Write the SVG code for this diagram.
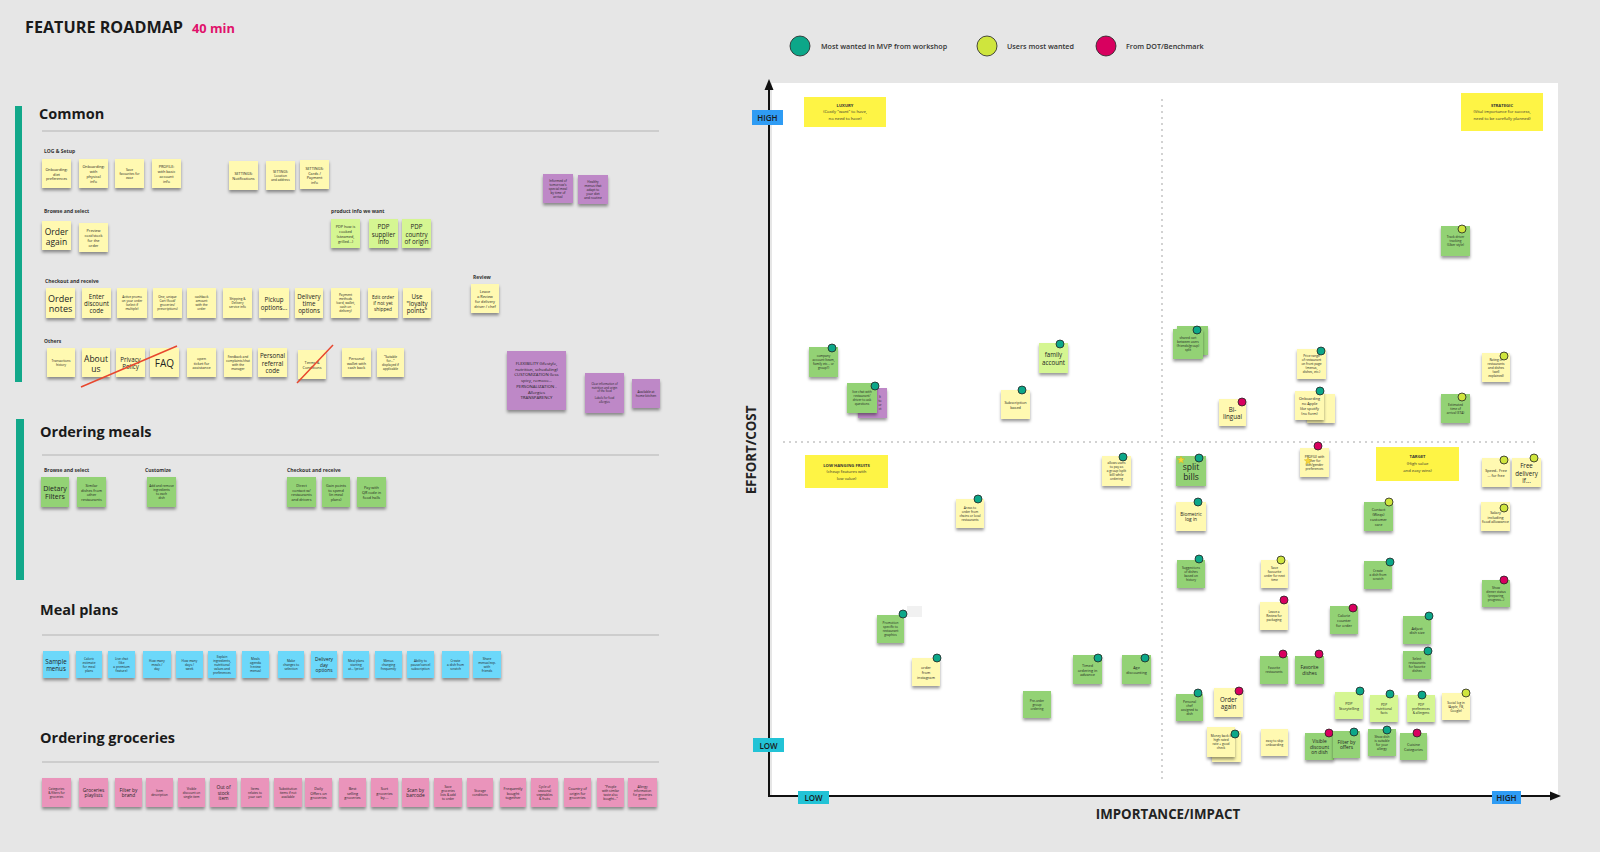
<svg xmlns="http://www.w3.org/2000/svg" xmlns:xlink="http://www.w3.org/1999/xlink" width="1600" height="852" viewBox="0 0 1600 852">
<defs>
<filter id="sh" x="-20%" y="-20%" width="140%" height="150%"><feDropShadow dx="0" dy="2.4" stdDeviation="1.5" flood-color="#000" flood-opacity="0.4"/></filter>
<polygon id="star" points="0,-4 1,-1.38 3.8,-1.24 1.62,0.53 2.35,3.24 0,1.7 -2.35,3.24 -1.62,0.53 -3.8,-1.24 -1,-1.38" fill="#f7d43b" stroke="#c9a400" stroke-width="0.3"/>
<style>
.y,.g,.l,.b,.p,.v{filter:url(#sh)}
.y{fill:#fff9b1}.g{fill:#93d275}.l{fill:#d5f692}.b{fill:#6cd8fa}.p{fill:#ea94bb}.v{fill:#be88c7}
.t{font-family:"Open Sans","Liberation Sans",Arial,sans-serif;fill:#222;text-anchor:middle;dominant-baseline:central}
.xs{font-size:3.2px}.s{font-size:3.8px}.m{font-size:4.8px}.M{font-size:6.2px}.L{font-size:8.5px}
.lb{font-family:"Open Sans","Liberation Sans",Arial,sans-serif;font-size:5px;font-weight:700;fill:#333}
.h{font-family:"Open Sans","Liberation Sans",Arial,sans-serif;font-size:14.5px;font-weight:700;fill:#1a1a1a}
.sec{stroke:#b4b4b4;stroke-width:1}
.bar{fill:#12a88a}
.dt,.dy,.dm{stroke:#222;stroke-width:0.8}
.dt{fill:#0ca789}.dy{fill:#cfe53d}.dm{fill:#d8005f}
.qb{fill:#fef445}
.q{font-family:"Open Sans","Liberation Sans",Arial,sans-serif;font-size:4.2px;fill:#333;text-anchor:middle;dominant-baseline:central}
.ax{font-family:"Open Sans","Liberation Sans",Arial,sans-serif;font-size:13.3px;font-weight:700;fill:#222;text-anchor:middle}
.tg{font-family:"Open Sans","Liberation Sans",Arial,sans-serif;font-size:8px;font-weight:600;fill:#1a1a1a;text-anchor:middle;dominant-baseline:central}
.lg{font-family:"Open Sans","Liberation Sans",Arial,sans-serif;font-size:7.2px;font-weight:600;fill:#333;dominant-baseline:central}
.strike{stroke:#e8472e;stroke-width:1.5}
</style>
</defs>
<rect width="1600" height="852" fill="#e6e6e6"/>

<g id="title">
<text x="25" y="33" font-family="Open Sans, Liberation Sans, sans-serif" font-size="16.2" font-weight="700" fill="#1a1a1a">FEATURE ROADMAP</text>
<text x="192" y="33" font-family="Open Sans, Liberation Sans, sans-serif" font-size="12.8" font-weight="700" fill="#e0116b">40 min</text>
</g>

<!-- ============ COMMON ============ -->
<g id="sec-common">
<rect class="bar" x="15" y="106" width="7" height="276"/>
<text class="h" x="39" y="119">Common</text>
<line class="sec" x1="42" y1="131" x2="659" y2="131"/>
<text class="lb" x="44" y="153">LOG &amp; Setup</text>
<text class="lb" x="44" y="213">Browse and select</text>
<text class="lb" x="331" y="213">product info we want</text>
<text class="lb" x="45" y="283">Checkout and receive</text>
<text class="lb" x="473" y="279">Review</text>
<text class="lb" x="44" y="343">Others</text>
</g>

<g id="c-log1"><rect class="y" x="42" y="159" width="29" height="29"/><text class="t s" x="56.5" y="168.8"><tspan x="56.5">Onboarding:</tspan><tspan x="56.5" dy="4.7">diet</tspan><tspan x="56.5" dy="4.7">preferences</tspan></text></g>
<g id="c-log2"><rect class="y" x="79" y="159" width="29" height="29"/><text class="t s" x="93.5" y="166.45"><tspan x="93.5">Onboarding:</tspan><tspan x="93.5" dy="4.7">with</tspan><tspan x="93.5" dy="4.7">physical</tspan><tspan x="93.5" dy="4.7">info</tspan></text></g>
<g id="c-log3"><rect class="y" x="115" y="159" width="29" height="29"/><text class="t xs" x="129.5" y="169.5"><tspan x="129.5">Save</tspan><tspan x="129.5" dy="4">favourites for</tspan><tspan x="129.5" dy="4">ease</tspan></text></g>
<g id="c-log4"><rect class="y" x="152" y="159" width="29" height="29"/><text class="t s" x="166.5" y="166.45"><tspan x="166.5">PROFILE:</tspan><tspan x="166.5" dy="4.7">with basic</tspan><tspan x="166.5" dy="4.7">account</tspan><tspan x="166.5" dy="4.7">info</tspan></text></g>
<g id="c-log5"><rect class="y" x="229" y="161" width="29" height="29"/><text class="t s" x="243.5" y="173.15"><tspan x="243.5">SETTINGS:</tspan><tspan x="243.5" dy="4.7">Notifications</tspan></text></g>
<g id="c-log6"><rect class="y" x="266" y="161" width="29" height="29"/><text class="t xs" x="280.5" y="171.5"><tspan x="280.5">SETTINGS:</tspan><tspan x="280.5" dy="4">Location</tspan><tspan x="280.5" dy="4">and address</tspan></text></g>
<g id="c-log7"><rect class="y" x="300" y="160" width="29" height="29"/><text class="t s" x="314.5" y="167.95"><tspan x="314.5">SETTINGS:</tspan><tspan x="314.5" dy="4.7">Cards /</tspan><tspan x="314.5" dy="4.7">Payment</tspan><tspan x="314.5" dy="4.7">info</tspan></text></g>
<g id="c-pur1"><rect class="v" x="543" y="174" width="30" height="29"/><text class="t xs" x="558" y="180.5"><tspan x="558">Informed of</tspan><tspan x="558" dy="4">tomorrow's</tspan><tspan x="558" dy="4">special meal</tspan><tspan x="558" dy="4">by time of</tspan><tspan x="558" dy="4">arrival</tspan></text></g>
<g id="c-pur2"><rect class="v" x="578" y="175" width="30" height="29"/><text class="t xs" x="593" y="181.5"><tspan x="593">Healthy</tspan><tspan x="593" dy="4">menus that</tspan><tspan x="593" dy="4">adapt to</tspan><tspan x="593" dy="4">your diet</tspan><tspan x="593" dy="4">and routine</tspan></text></g>

<g id="c-br1"><rect class="y" x="42" y="221" width="29" height="29"/><text class="t L" x="56.5" y="230.5"><tspan x="56.5">Order</tspan><tspan x="56.5" dy="10">again</tspan></text></g>
<g id="c-br2"><rect class="y" x="79" y="223" width="29" height="29"/><text class="t s" x="93.5" y="230.45"><tspan x="93.5">Preview</tspan><tspan x="93.5" dy="4.7">cost/stock</tspan><tspan x="93.5" dy="4.7">for the</tspan><tspan x="93.5" dy="4.7">order</tspan></text></g>
<g id="c-pdp1"><rect class="l" x="331" y="219" width="29" height="29"/><text class="t s" x="345.5" y="226.45"><tspan x="345.5">PDP how is</tspan><tspan x="345.5" dy="4.7">cooked</tspan><tspan x="345.5" dy="4.7">(steamed,</tspan><tspan x="345.5" dy="4.7">grilled...)</tspan></text></g>
<g id="c-pdp2"><rect class="l" x="369" y="219" width="29" height="29"/><text class="t M" x="383.5" y="226.1"><tspan x="383.5">PDP</tspan><tspan x="383.5" dy="7.4">supplier</tspan><tspan x="383.5" dy="7.4">info</tspan></text></g>
<g id="c-pdp3"><rect class="l" x="402" y="219" width="29" height="29"/><text class="t M" x="416.5" y="226.1"><tspan x="416.5">PDP</tspan><tspan x="416.5" dy="7.4">country</tspan><tspan x="416.5" dy="7.4">of origin</tspan></text></g>

<g id="c-co1"><rect class="y" x="46" y="288" width="29" height="30"/><text class="t" font-size="9" x="60.5" y="297.8"><tspan x="60.5">Order</tspan><tspan x="60.5" dy="10.5">notes</tspan></text></g>
<g id="c-co2"><rect class="y" x="82" y="288" width="29" height="30"/><text class="t M" x="96.5" y="295.6"><tspan x="96.5">Enter</tspan><tspan x="96.5" dy="7.4">discount</tspan><tspan x="96.5" dy="7.4">code</tspan></text></g>
<g id="c-co3"><rect class="y" x="117" y="288" width="30" height="30"/><text class="t xs" x="132" y="297"><tspan x="132">Active promo</tspan><tspan x="132" dy="4">on your order</tspan><tspan x="132" dy="4">(select if</tspan><tspan x="132" dy="4">multiple)</tspan></text></g>
<g id="c-co4"><rect class="y" x="153" y="288" width="29" height="30"/><text class="t xs" x="167.5" y="297"><tspan x="167.5">One, unique</tspan><tspan x="167.5" dy="4">Cart (food/</tspan><tspan x="167.5" dy="4">groceries/</tspan><tspan x="167.5" dy="4">prescriptions)</tspan></text></g>
<g id="c-co5"><rect class="y" x="187" y="288" width="29" height="30"/><text class="t xs" x="201.5" y="297"><tspan x="201.5">cashback</tspan><tspan x="201.5" dy="4">amount</tspan><tspan x="201.5" dy="4">with the</tspan><tspan x="201.5" dy="4">order</tspan></text></g>
<g id="c-co6"><rect class="y" x="223" y="288" width="29" height="30"/><text class="t xs" x="237.5" y="299"><tspan x="237.5">Shipping &amp;</tspan><tspan x="237.5" dy="4">Delivery</tspan><tspan x="237.5" dy="4">service info</tspan></text></g>
<g id="c-co7"><rect class="y" x="259" y="288" width="30" height="30"/><text class="t M" x="274" y="299.3"><tspan x="274">Pickup</tspan><tspan x="274" dy="7.4">options...</tspan></text></g>
<g id="c-co8"><rect class="y" x="295" y="288" width="28" height="30"/><text class="t M" x="309" y="295.6"><tspan x="309">Delivery</tspan><tspan x="309" dy="7.4">time</tspan><tspan x="309" dy="7.4">options</tspan></text></g>
<g id="c-co9"><rect class="y" x="331" y="288" width="29" height="30"/><text class="t xs" x="345.5" y="295"><tspan x="345.5">Payment</tspan><tspan x="345.5" dy="4">methods</tspan><tspan x="345.5" dy="4">(card, wallet,</tspan><tspan x="345.5" dy="4">cash on</tspan><tspan x="345.5" dy="4">delivery)</tspan></text></g>
<g id="c-co10"><rect class="y" x="368" y="288" width="30" height="30"/><text class="t m" x="383" y="297.2"><tspan x="383">Edit order</tspan><tspan x="383" dy="5.8">if not yet</tspan><tspan x="383" dy="5.8">shipped</tspan></text></g>
<g id="c-co11"><rect class="y" x="403" y="288" width="28" height="30"/><text class="t M" x="417" y="295.6"><tspan x="417">Use</tspan><tspan x="417" dy="7.4">"loyalty</tspan><tspan x="417" dy="7.4">points"</tspan></text></g>
<g id="c-rev"><rect class="y" x="471" y="284" width="28" height="29"/><text class="t s" x="485" y="291.45"><tspan x="485">Leave</tspan><tspan x="485" dy="4.7">a Review</tspan><tspan x="485" dy="4.7">for delivery</tspan><tspan x="485" dy="4.7">driver / chef</tspan></text></g>

<g id="c-ot1"><rect class="y" x="47" y="348" width="28" height="29"/><text class="t xs" x="61" y="360.5"><tspan x="61">Transactions</tspan><tspan x="61" dy="4">history</tspan></text></g>
<g id="c-ot2"><rect class="y" x="82" y="348" width="28" height="29"/><text class="t L" x="96" y="357.5"><tspan x="96">About</tspan><tspan x="96" dy="10">us</tspan></text></g>
<g id="c-ot3"><rect class="y" x="116" y="348" width="29" height="29"/><text class="t M" x="130.5" y="358.8"><tspan x="130.5">Privacy</tspan><tspan x="130.5" dy="7.4">Policy</tspan></text></g>
<g id="c-ot4"><rect class="y" x="150" y="348" width="29" height="29"/><text class="t" font-size="10" x="164.5" y="362.5">FAQ</text></g>
<g id="c-ot5"><rect class="y" x="187" y="348" width="29" height="29"/><text class="t s" x="201.5" y="357.8"><tspan x="201.5">open</tspan><tspan x="201.5" dy="4.7">ticket for</tspan><tspan x="201.5" dy="4.7">assistance</tspan></text></g>
<g id="c-ot6"><rect class="y" x="224" y="348" width="28" height="29"/><text class="t xs" x="238" y="356.5"><tspan x="238">Feedback and</tspan><tspan x="238" dy="4">complaints/chat</tspan><tspan x="238" dy="4">with the</tspan><tspan x="238" dy="4">manager</tspan></text></g>
<g id="c-ot7"><rect class="y" x="258" y="348" width="29" height="29"/><text class="t M" x="272.5" y="355.1"><tspan x="272.5">Personal</tspan><tspan x="272.5" dy="7.4">referral</tspan><tspan x="272.5" dy="7.4">code</tspan></text></g>
<g id="c-ot8"><rect class="y" x="298" y="350" width="28" height="29"/><text class="t s" x="312" y="362.15"><tspan x="312">Terms &amp;</tspan><tspan x="312" dy="4.7">Conditions</tspan></text></g>
<g id="c-ot9"><rect class="y" x="342" y="348" width="29" height="29"/><text class="t s" x="356.5" y="357.8"><tspan x="356.5">Personal</tspan><tspan x="356.5" dy="4.7">wallet with</tspan><tspan x="356.5" dy="4.7">cash back</tspan></text></g>
<g id="c-ot10"><rect class="y" x="377" y="348" width="27" height="29"/><text class="t xs" x="390.5" y="356.5"><tspan x="390.5">"Suitable</tspan><tspan x="390.5" dy="4">for..."</tspan><tspan x="390.5" dy="4">displayed if</tspan><tspan x="390.5" dy="4">applicable</tspan></text></g>
<g id="c-strikes">
<line class="strike" x1="81" y1="387" x2="177" y2="346"/>
<line class="strike" x1="297" y1="383" x2="333" y2="345"/>
</g>

<g id="c-pur3"><rect class="v" x="507" y="351" width="59" height="59"/><text class="t" font-size="4.3" x="536.5" y="363"><tspan x="536.5">FLEXIBILITY (lifestyle,</tspan><tspan x="536.5" dy="5.7">nutrition, scheduling)</tspan><tspan x="536.5" dy="5.7">CUSTOMIZATION (less</tspan><tspan x="536.5" dy="5.7">spicy, remove...</tspan><tspan x="536.5" dy="5.7">PERSONALIZATION -</tspan><tspan x="536.5" dy="5.7">Allergies</tspan><tspan x="536.5" dy="5.7">TRANSPARENCY</tspan></text></g>
<g id="c-pur4"><rect class="v" x="585" y="373" width="39" height="40"/><text class="t" font-size="2.8" x="604.5" y="384"><tspan x="604.5">Clear information of</tspan><tspan x="604.5" dy="3.6">nutrition and origin</tspan><tspan x="604.5" dy="3.6">of the food</tspan><tspan x="604.5" dy="7">Labels for food</tspan><tspan x="604.5" dy="3.6">allergies</tspan></text></g>
<g id="c-pur5"><rect class="v" x="632" y="379" width="28" height="29"/><text class="t xs" x="646" y="391.5"><tspan x="646">Available at</tspan><tspan x="646" dy="4">home kitchen</tspan></text></g>

<!-- ============ ORDERING MEALS ============ -->
<g id="sec-meals">
<rect class="bar" x="16" y="419" width="8" height="161"/>
<text class="h" x="40" y="437">Ordering meals</text>
<line class="sec" x1="42" y1="455" x2="659" y2="455"/>
<text class="lb" x="44" y="472">Browse and select</text>
<text class="lb" x="145" y="472">Customize</text>
<text class="lb" x="287" y="472">Checkout and receive</text>
</g>
<g id="m-1"><rect class="g" x="41" y="477" width="28" height="30"/><text class="t" font-size="7" x="55" y="487.8"><tspan x="55">Dietary</tspan><tspan x="55" dy="8.4">Filters</tspan></text></g>
<g id="m-2"><rect class="g" x="77" y="477" width="29" height="30"/><text class="t s" x="91.5" y="484.95"><tspan x="91.5">Similar</tspan><tspan x="91.5" dy="4.7">dishes from</tspan><tspan x="91.5" dy="4.7">other</tspan><tspan x="91.5" dy="4.7">restaurants</tspan></text></g>
<g id="m-3"><rect class="g" x="147" y="477" width="29" height="30"/><text class="t xs" x="161.5" y="486"><tspan x="161.5">Add and remove</tspan><tspan x="161.5" dy="4">ingredients</tspan><tspan x="161.5" dy="4">to each</tspan><tspan x="161.5" dy="4">dish</tspan></text></g>
<g id="m-4"><rect class="g" x="287" y="477" width="29" height="30"/><text class="t s" x="301.5" y="484.95"><tspan x="301.5">Direct</tspan><tspan x="301.5" dy="4.7">contact w/</tspan><tspan x="301.5" dy="4.7">restaurants</tspan><tspan x="301.5" dy="4.7">and drivers</tspan></text></g>
<g id="m-5"><rect class="g" x="322" y="477" width="28" height="30"/><text class="t s" x="336" y="484.95"><tspan x="336">Gain points</tspan><tspan x="336" dy="4.7">to spend</tspan><tspan x="336" dy="4.7">(in meal</tspan><tspan x="336" dy="4.7">plans)</tspan></text></g>
<g id="m-6"><rect class="g" x="357" y="477" width="29" height="30"/><text class="t s" x="371.5" y="487.3"><tspan x="371.5">Pay with</tspan><tspan x="371.5" dy="4.7">QR code in</tspan><tspan x="371.5" dy="4.7">food halls</tspan></text></g>

<!-- ============ MEAL PLANS ============ -->
<g id="sec-plans">
<text class="h" x="40" y="615">Meal plans</text>
<line class="sec" x1="42" y1="635" x2="659" y2="635"/>
</g>
<g id="p-1"><rect class="b" x="43" y="651" width="26" height="27"/><text class="t M" x="56" y="660.8"><tspan x="56">Sample</tspan><tspan x="56" dy="7.4">menus</tspan></text></g>
<g id="p-2"><rect class="b" x="76" y="651" width="26" height="27"/><text class="t xs" x="89" y="658.5"><tspan x="89">Caloric</tspan><tspan x="89" dy="4">estimate</tspan><tspan x="89" dy="4">for meal</tspan><tspan x="89" dy="4">plans</tspan></text></g>
<g id="p-3"><rect class="b" x="108" y="651" width="27" height="27"/><text class="t xs" x="121.5" y="658.5"><tspan x="121.5">Live chat</tspan><tspan x="121.5" dy="4">(like</tspan><tspan x="121.5" dy="4">a premium</tspan><tspan x="121.5" dy="4">feature)</tspan></text></g>
<g id="p-4"><rect class="b" x="143" y="651" width="28" height="27"/><text class="t xs" x="157" y="660.5"><tspan x="157">How many</tspan><tspan x="157" dy="4">meals /</tspan><tspan x="157" dy="4">day</tspan></text></g>
<g id="p-5"><rect class="b" x="176" y="651" width="27" height="27"/><text class="t xs" x="189.5" y="660.5"><tspan x="189.5">How many</tspan><tspan x="189.5" dy="4">days /</tspan><tspan x="189.5" dy="4">week</tspan></text></g>
<g id="p-6"><rect class="b" x="208" y="651" width="28" height="27"/><text class="t xs" x="222" y="656.5"><tspan x="222">Explain</tspan><tspan x="222" dy="4">ingredients,</tspan><tspan x="222" dy="4">nutritional</tspan><tspan x="222" dy="4">values and</tspan><tspan x="222" dy="4">preferences</tspan></text></g>
<g id="p-7"><rect class="b" x="242" y="651" width="27" height="27"/><text class="t xs" x="255.5" y="658.5"><tspan x="255.5">Meals</tspan><tspan x="255.5" dy="4">agenda</tspan><tspan x="255.5" dy="4">(review</tspan><tspan x="255.5" dy="4">menus)</tspan></text></g>
<g id="p-8"><rect class="b" x="278" y="651" width="26" height="27"/><text class="t xs" x="291" y="660.5"><tspan x="291">Make</tspan><tspan x="291" dy="4">changes to</tspan><tspan x="291" dy="4">selection</tspan></text></g>
<g id="p-9"><rect class="b" x="311" y="651" width="26" height="27"/><text class="t m" x="324" y="658.7"><tspan x="324">Delivery</tspan><tspan x="324" dy="5.8">day</tspan><tspan x="324" dy="5.8">options</tspan></text></g>
<g id="p-10"><rect class="b" x="343" y="651" width="26" height="27"/><text class="t xs" x="356" y="660.5"><tspan x="356">Meal plans</tspan><tspan x="356" dy="4">starting</tspan><tspan x="356" dy="4">at... (price)</tspan></text></g>
<g id="p-11"><rect class="b" x="375" y="651" width="27" height="27"/><text class="t xs" x="388.5" y="660.5"><tspan x="388.5">Menus</tspan><tspan x="388.5" dy="4">changing</tspan><tspan x="388.5" dy="4">frequently</tspan></text></g>
<g id="p-12"><rect class="b" x="407" y="651" width="27" height="27"/><text class="t xs" x="420.5" y="660.5"><tspan x="420.5">Ability to</tspan><tspan x="420.5" dy="4">pause/cancel</tspan><tspan x="420.5" dy="4">subscription</tspan></text></g>
<g id="p-13"><rect class="b" x="442" y="651" width="27" height="27"/><text class="t xs" x="455.5" y="660.5"><tspan x="455.5">Create</tspan><tspan x="455.5" dy="4">a dish from</tspan><tspan x="455.5" dy="4">scratch</tspan></text></g>
<g id="p-14"><rect class="b" x="473" y="651" width="28" height="27"/><text class="t xs" x="487" y="658.5"><tspan x="487">Share</tspan><tspan x="487" dy="4">menus/exp.</tspan><tspan x="487" dy="4">with</tspan><tspan x="487" dy="4">friends</tspan></text></g>

<!-- ============ GROCERIES ============ -->
<g id="sec-groc">
<text class="h" x="40" y="743">Ordering groceries</text>
<line class="sec" x1="42" y1="762" x2="659" y2="762"/>
</g>
<g id="g-1"><rect class="p" x="42" y="778" width="29" height="29"/><text class="t xs" x="56.5" y="788.5"><tspan x="56.5">Categories</tspan><tspan x="56.5" dy="4">&amp; filters for</tspan><tspan x="56.5" dy="4">groceries</tspan></text></g>
<g id="g-2"><rect class="p" x="79" y="778" width="29" height="29"/><text class="t m" x="93.5" y="789.6"><tspan x="93.5">Groceries</tspan><tspan x="93.5" dy="5.8">playlists</tspan></text></g>
<g id="g-3"><rect class="p" x="115" y="778" width="27" height="29"/><text class="t m" x="128.5" y="789.6"><tspan x="128.5">Filter by</tspan><tspan x="128.5" dy="5.8">brand</tspan></text></g>
<g id="g-4"><rect class="p" x="146" y="778" width="27" height="29"/><text class="t xs" x="159.5" y="790.5"><tspan x="159.5">Item</tspan><tspan x="159.5" dy="4">description</tspan></text></g>
<g id="g-5"><rect class="p" x="178" y="778" width="27" height="29"/><text class="t xs" x="191.5" y="788.5"><tspan x="191.5">Visible</tspan><tspan x="191.5" dy="4">discount on</tspan><tspan x="191.5" dy="4">single item</tspan></text></g>
<g id="g-6"><rect class="p" x="210" y="778" width="27" height="29"/><text class="t m" x="223.5" y="786.7"><tspan x="223.5">Out of</tspan><tspan x="223.5" dy="5.8">stock</tspan><tspan x="223.5" dy="5.8">item</tspan></text></g>
<g id="g-7"><rect class="p" x="241" y="778" width="28" height="29"/><text class="t xs" x="255" y="788.5"><tspan x="255">Items</tspan><tspan x="255" dy="4">relates to</tspan><tspan x="255" dy="4">your cart</tspan></text></g>
<g id="g-8"><rect class="p" x="274" y="778" width="28" height="29"/><text class="t xs" x="288" y="788.5"><tspan x="288">Substitution</tspan><tspan x="288" dy="4">items if not</tspan><tspan x="288" dy="4">available</tspan></text></g>
<g id="g-9"><rect class="p" x="305" y="778" width="27" height="29"/><text class="t s" x="318.5" y="787.8"><tspan x="318.5">Daily</tspan><tspan x="318.5" dy="4.7">Offers on</tspan><tspan x="318.5" dy="4.7">groceries</tspan></text></g>
<g id="g-10"><rect class="p" x="339" y="778" width="27" height="29"/><text class="t s" x="352.5" y="787.8"><tspan x="352.5">Best</tspan><tspan x="352.5" dy="4.7">selling</tspan><tspan x="352.5" dy="4.7">groceries</tspan></text></g>
<g id="g-11"><rect class="p" x="371" y="778" width="27" height="29"/><text class="t s" x="384.5" y="787.8"><tspan x="384.5">Sort</tspan><tspan x="384.5" dy="4.7">groceries</tspan><tspan x="384.5" dy="4.7">by....</tspan></text></g>
<g id="g-12"><rect class="p" x="402" y="778" width="27" height="29"/><text class="t m" x="415.5" y="789.6"><tspan x="415.5">Scan by</tspan><tspan x="415.5" dy="5.8">barcode</tspan></text></g>
<g id="g-13"><rect class="p" x="434" y="778" width="28" height="29"/><text class="t xs" x="448" y="786.5"><tspan x="448">Save</tspan><tspan x="448" dy="4">groceries</tspan><tspan x="448" dy="4">lists &amp; add</tspan><tspan x="448" dy="4">to order</tspan></text></g>
<g id="g-14"><rect class="p" x="467" y="778" width="26" height="29"/><text class="t xs" x="480" y="790.5"><tspan x="480">Storage</tspan><tspan x="480" dy="4">conditions</tspan></text></g>
<g id="g-15"><rect class="p" x="500" y="778" width="26" height="29"/><text class="t s" x="513" y="787.8"><tspan x="513">Frequently</tspan><tspan x="513" dy="4.7">bought</tspan><tspan x="513" dy="4.7">together</tspan></text></g>
<g id="g-16"><rect class="p" x="531" y="778" width="27" height="29"/><text class="t xs" x="544.5" y="786.5"><tspan x="544.5">Cycle of</tspan><tspan x="544.5" dy="4">seasonal</tspan><tspan x="544.5" dy="4">vegetables</tspan><tspan x="544.5" dy="4">&amp; fruits</tspan></text></g>
<g id="g-17"><rect class="p" x="564" y="778" width="27" height="29"/><text class="t s" x="577.5" y="787.8"><tspan x="577.5">Country of</tspan><tspan x="577.5" dy="4.7">origin for</tspan><tspan x="577.5" dy="4.7">groceries</tspan></text></g>
<g id="g-18"><rect class="p" x="597" y="778" width="27" height="29"/><text class="t xs" x="610.5" y="786.5"><tspan x="610.5">"People</tspan><tspan x="610.5" dy="4">with similar</tspan><tspan x="610.5" dy="4">taste also</tspan><tspan x="610.5" dy="4">bought..."</tspan></text></g>
<g id="g-19"><rect class="p" x="628" y="778" width="29" height="29"/><text class="t xs" x="642.5" y="786.5"><tspan x="642.5">Allergy</tspan><tspan x="642.5" dy="4">information</tspan><tspan x="642.5" dy="4">for groceries</tspan><tspan x="642.5" dy="4">items</tspan></text></g>

<!-- ============ LEGEND ============ -->
<g id="legend">
<circle class="dt" cx="800" cy="46" r="10"/>
<text class="lg" x="821" y="46">Most wanted in MVP from workshop</text>
<circle class="dy" cx="987" cy="46" r="10"/>
<text class="lg" x="1007" y="46">Users most wanted</text>
<circle class="dm" cx="1106" cy="46" r="10"/>
<text class="lg" x="1126" y="46">From DOT/Benchmark</text>
</g>

<!-- ============ CHART ============ -->
<g id="chart-bg">
<rect x="772" y="83" width="786" height="713" fill="#ffffff"/>
<line x1="1162" y1="99" x2="1162" y2="779" stroke="#d2d2d2" stroke-width="2" stroke-dasharray="2 4"/>
<line x1="783" y1="442" x2="1536" y2="442" stroke="#d2d2d2" stroke-width="2" stroke-dasharray="2 4"/>
</g>

<g id="quadrants">
<g id="q-luxury"><rect class="qb" x="804" y="97" width="82" height="30"/><text class="q" x="845" y="105" font-weight="700">LUXURY</text><text class="q" x="845" y="111.7">(Costly "want" to have,</text><text class="q" x="845" y="118.5">no need to have)</text></g>
<g id="q-strategic"><rect class="qb" x="1461" y="93" width="82" height="38"/><text class="q" x="1502" y="105" font-weight="700">STRATEGIC</text><text class="q" x="1502" y="111.7">(Vital importance for success,</text><text class="q" x="1502" y="118.5">need to be carefully planned)</text></g>
<g id="q-lhf"><rect class="qb" x="805" y="455" width="83" height="33"/><text class="q" x="846.5" y="465" font-weight="700">LOW HANGING FRUITS</text><text class="q" x="846.5" y="471.7">(cheap features with</text><text class="q" x="846.5" y="478.4">low value)</text></g>
<g id="q-target"><rect class="qb" x="1376" y="447" width="83" height="34"/><text class="q" x="1417.5" y="456.7" font-weight="700">TARGET</text><text class="q" x="1417.5" y="463.3">(High value</text><text class="q" x="1417.5" y="470">and easy wins)</text></g>
</g>

<!-- chart notes: top-left -->
<g id="n-a2"><rect class="v" x="858" y="388" width="29" height="30"/><text class="t xs" x="872.5" y="397"><tspan x="880">It</tspan><tspan x="880" dy="4">to</tspan><tspan x="880" dy="4">or</tspan><tspan x="880" dy="4">ct</tspan></text></g>
<g id="n-a1"><rect class="g" x="809" y="347" width="29" height="30"/><text class="t xs" x="823.5" y="356"><tspan x="823.5">company</tspan><tspan x="823.5" dy="4">account (team,</tspan><tspan x="823.5" dy="4">family etc... or</tspan><tspan x="823.5" dy="4">group?)</tspan></text><circle class="dt" cx="832" cy="348" r="4"/></g>
<g id="n-a3"><rect class="g" x="847" y="383" width="30" height="30"/><text class="t xs" x="862" y="392"><tspan x="862">live chat with</tspan><tspan x="862" dy="4">restaurant/</tspan><tspan x="862" dy="4">driver to ask</tspan><tspan x="862" dy="4">questions</tspan></text><circle class="dt" cx="875" cy="386" r="4"/></g>
<g id="n-a4"><rect class="l" x="1039" y="343" width="29" height="30"/><text class="t M" x="1053.5" y="354.3"><tspan x="1053.5">family</tspan><tspan x="1053.5" dy="7.4">account</tspan></text><circle class="dt" cx="1060" cy="344" r="4"/></g>
<g id="n-a5"><rect class="y" x="1001" y="390" width="29" height="29"/><text class="t s" x="1015.5" y="402.15"><tspan x="1015.5">Subscription</tspan><tspan x="1015.5" dy="4.7">based</tspan></text><circle class="dt" cx="1022" cy="390" r="4"/></g>

<!-- top-right -->
<g id="n-b1"><rect class="g" x="1177" y="326" width="31" height="29"/><rect class="g" x="1173" y="329" width="30" height="30"/><text class="t xs" x="1188" y="338"><tspan x="1188">shared cart</tspan><tspan x="1188" dy="4">between users</tspan><tspan x="1188" dy="4">(friends/group)</tspan><tspan x="1188" dy="4">split</tspan></text><circle class="dt" cx="1197" cy="330" r="4"/></g>
<g id="n-b2"><rect class="g" x="1441" y="226" width="29" height="30"/><text class="t xs" x="1455.5" y="237"><tspan x="1455.5">Track driver</tspan><tspan x="1455.5" dy="4">tracking</tspan><tspan x="1455.5" dy="4">(Uber style)</tspan></text><circle class="dy" cx="1462" cy="229" r="4"/></g>
<g id="n-b3"><rect class="y" x="1297" y="349" width="29" height="30"/><text class="t xs" x="1311.5" y="356"><tspan x="1311.5">Price range</tspan><tspan x="1311.5" dy="4">of restaurant</tspan><tspan x="1311.5" dy="4">on front page</tspan><tspan x="1311.5" dy="4">(menus,</tspan><tspan x="1311.5" dy="4">dishes, etc.)</tspan></text><circle class="dt" cx="1321" cy="351" r="4"/></g>
<g id="n-b4"><rect class="y" x="1219" y="399" width="27" height="27"/><text class="t M" x="1232.5" y="408.8"><tspan x="1232.5">Bi-</tspan><tspan x="1232.5" dy="7.4">lingual</tspan></text><circle class="dm" cx="1242" cy="402" r="4"/></g>
<g id="n-b5"><rect class="y" x="1307" y="394" width="28" height="29"/><rect class="y" x="1295" y="391" width="29" height="29"/><text class="t s" x="1309.5" y="398.45"><tspan x="1309.5">Onboarding</tspan><tspan x="1309.5" dy="4.7">no Apple</tspan><tspan x="1309.5" dy="4.7">like spotify</tspan><tspan x="1309.5" dy="4.7">(no form)</tspan></text><circle class="dt" cx="1320" cy="391" r="4"/></g>
<g id="n-b6"><rect class="y" x="1482" y="353" width="28" height="29"/><text class="t xs" x="1496" y="359.5"><tspan x="1496">Rating of</tspan><tspan x="1496" dy="4">restaurants</tspan><tspan x="1496" dy="4">and dishes</tspan><tspan x="1496" dy="4">(well</tspan><tspan x="1496" dy="4">explained)</tspan></text><circle class="dy" cx="1504" cy="356" r="4"/></g>
<g id="n-b7"><rect class="g" x="1441" y="394" width="29" height="29"/><text class="t xs" x="1455.5" y="404.5"><tspan x="1455.5">Estimated</tspan><tspan x="1455.5" dy="4">time of</tspan><tspan x="1455.5" dy="4">arrival (ETA)</tspan></text><circle class="dy" cx="1462" cy="397" r="4"/></g>

<!-- bottom-left -->
<g id="n-c1"><rect class="y" x="1102" y="456" width="29" height="30"/><text class="t xs" x="1116.5" y="463"><tspan x="1116.5">allows users</tspan><tspan x="1116.5" dy="4">to pay as</tspan><tspan x="1116.5" dy="4">a group (split</tspan><tspan x="1116.5" dy="4">bill) while</tspan><tspan x="1116.5" dy="4">ordering</tspan></text><circle class="dt" cx="1123" cy="457" r="4"/></g>
<g id="n-c2"><rect class="y" x="956" y="499" width="28" height="29"/><text class="t xs" x="970" y="507.5"><tspan x="970">Areas to</tspan><tspan x="970" dy="4">order from</tspan><tspan x="970" dy="4">chains or local</tspan><tspan x="970" dy="4">restaurants</tspan></text><circle class="dt" cx="978" cy="499" r="4"/></g>
<g id="n-c3"><rect x="907" y="606" width="15" height="11" fill="#f1f1f1"/><rect class="g" x="877" y="615" width="27" height="28"/><text class="t xs" x="890.5" y="623"><tspan x="890.5">Promotion</tspan><tspan x="890.5" dy="4">specific to</tspan><tspan x="890.5" dy="4">restaurant</tspan><tspan x="890.5" dy="4">graphics</tspan></text><circle class="dt" cx="903" cy="614" r="4"/></g>
<g id="n-c4"><rect class="y" x="912" y="658" width="28" height="28"/><text class="t s" x="926" y="667.3"><tspan x="926">order</tspan><tspan x="926" dy="4.7">from</tspan><tspan x="926" dy="4.7">instagram</tspan></text><circle class="dt" cx="937" cy="658" r="4"/></g>
<g id="n-c5"><rect class="g" x="1023" y="691" width="28" height="27"/><text class="t xs" x="1037" y="700.5"><tspan x="1037">Pre-order</tspan><tspan x="1037" dy="4">group</tspan><tspan x="1037" dy="4">ordering</tspan></text></g>
<g id="n-c6"><rect class="g" x="1073" y="655" width="29" height="29"/><text class="t s" x="1087.5" y="664.8"><tspan x="1087.5">Timed</tspan><tspan x="1087.5" dy="4.7">ordering in</tspan><tspan x="1087.5" dy="4.7">advance</tspan></text><circle class="dt" cx="1098" cy="658" r="4"/></g>
<g id="n-c7"><rect class="g" x="1122" y="655" width="29" height="29"/><text class="t s" x="1136.5" y="667.15"><tspan x="1136.5">Age</tspan><tspan x="1136.5" dy="4.7">discounting</tspan></text><circle class="dt" cx="1145" cy="658" r="4"/></g>

<!-- bottom-right -->
<g id="n-d1"><rect class="g" x="1176" y="456" width="30" height="30"/><text class="t L" x="1191" y="466"><tspan x="1191">split</tspan><tspan x="1191" dy="10">bills</tspan></text><use href="#star" x="1181" y="460"/><circle class="dt" cx="1199" cy="458" r="4"/></g>
<g id="n-d2"><rect class="y" x="1300" y="448" width="29" height="29"/><text class="t xs" x="1314.5" y="456.5"><tspan x="1314.5">PROFILE with</tspan><tspan x="1314.5" dy="4">filter for</tspan><tspan x="1314.5" dy="4">diet/gender</tspan><tspan x="1314.5" dy="4">preferences</tspan></text><use href="#star" x="1308" y="461"/><circle class="dm" cx="1318" cy="446" r="4"/></g>
<g id="n-d3"><rect class="y" x="1482" y="458" width="28" height="29"/><text class="t s" x="1496" y="470.15"><tspan x="1496">Speed.. Free</tspan><tspan x="1496" dy="4.7">... for free</tspan></text><circle class="dy" cx="1504" cy="460" r="4"/></g>
<g id="n-d4"><rect class="y" x="1512" y="458" width="29" height="29"/><text class="t M" x="1526.5" y="465.1"><tspan x="1526.5">Free</tspan><tspan x="1526.5" dy="7.4">delivery</tspan><tspan x="1526.5" dy="7.4">if...</tspan></text><circle class="dy" cx="1534" cy="458" r="4"/></g>
<g id="n-d5"><rect class="y" x="1176" y="502" width="30" height="29"/><text class="t m" x="1191" y="513.6"><tspan x="1191">Biometric</tspan><tspan x="1191" dy="5.8">log in</tspan></text><circle class="dt" cx="1198" cy="502" r="4"/></g>
<g id="n-d6"><rect class="g" x="1364" y="502" width="29" height="29"/><text class="t s" x="1378.5" y="509.45"><tspan x="1378.5">Contact</tspan><tspan x="1378.5" dy="4.7">(Weqs)</tspan><tspan x="1378.5" dy="4.7">customer</tspan><tspan x="1378.5" dy="4.7">care</tspan></text><circle class="dy" cx="1389" cy="502" r="4"/></g>
<g id="n-d7"><rect class="y" x="1481" y="502" width="29" height="29"/><text class="t s" x="1495.5" y="511.8"><tspan x="1495.5">Salary</tspan><tspan x="1495.5" dy="4.7">including</tspan><tspan x="1495.5" dy="4.7">food allowance</tspan></text><circle class="dy" cx="1504" cy="508" r="4"/></g>
<g id="n-d8"><rect class="g" x="1177" y="560" width="28" height="28"/><text class="t xs" x="1191" y="568"><tspan x="1191">Suggestions</tspan><tspan x="1191" dy="4">of dishes</tspan><tspan x="1191" dy="4">based on</tspan><tspan x="1191" dy="4">history</tspan></text><circle class="dt" cx="1199" cy="559" r="4"/></g>
<g id="n-d9"><rect class="y" x="1261" y="560" width="27" height="28"/><text class="t xs" x="1274.5" y="568"><tspan x="1274.5">Save</tspan><tspan x="1274.5" dy="4">favourite</tspan><tspan x="1274.5" dy="4">order for next</tspan><tspan x="1274.5" dy="4">time</tspan></text><circle class="dy" cx="1281" cy="560" r="4"/></g>
<g id="n-d10"><rect class="g" x="1364" y="561" width="28" height="28"/><text class="t xs" x="1378" y="571"><tspan x="1378">Create</tspan><tspan x="1378" dy="4">a dish from</tspan><tspan x="1378" dy="4">scratch</tspan></text><circle class="dt" cx="1390" cy="562" r="4"/></g>
<g id="n-d11"><rect class="g" x="1482" y="580" width="28" height="27"/><text class="t xs" x="1496" y="587.5"><tspan x="1496">Show</tspan><tspan x="1496" dy="4">dinner status</tspan><tspan x="1496" dy="4">(preparing,</tspan><tspan x="1496" dy="4">progress...)</tspan></text><circle class="dm" cx="1504" cy="580" r="4"/></g>
<g id="n-d12"><rect class="y" x="1260" y="602" width="28" height="28"/><text class="t xs" x="1274" y="612"><tspan x="1274">Leave a</tspan><tspan x="1274" dy="4">Review for</tspan><tspan x="1274" dy="4">packaging</tspan></text><circle class="dm" cx="1284" cy="600" r="4"/></g>
<g id="n-d13"><rect class="g" x="1330" y="606" width="28" height="28"/><text class="t s" x="1344" y="615.3"><tspan x="1344">Calorie</tspan><tspan x="1344" dy="4.7">counter</tspan><tspan x="1344" dy="4.7">for order</tspan></text><circle class="dm" cx="1353" cy="608" r="4"/></g>
<g id="n-d14"><rect class="g" x="1403" y="616" width="28" height="28"/><text class="t s" x="1417" y="627.65"><tspan x="1417">Adjust</tspan><tspan x="1417" dy="4.7">dish size</tspan></text><circle class="dt" cx="1429" cy="616" r="4"/></g>
<g id="n-d15"><rect class="g" x="1403" y="651" width="28" height="28"/><text class="t xs" x="1417" y="659"><tspan x="1417">Select</tspan><tspan x="1417" dy="4">restaurants</tspan><tspan x="1417" dy="4">for favorite</tspan><tspan x="1417" dy="4">dishes</tspan></text><circle class="dt" cx="1428" cy="651" r="4"/></g>
<g id="n-d16"><rect class="g" x="1260" y="656" width="28" height="28"/><text class="t xs" x="1274" y="668"><tspan x="1274">Favorite</tspan><tspan x="1274" dy="4">restaurants</tspan></text><circle class="dm" cx="1283" cy="654" r="4"/></g>
<g id="n-d17"><rect class="g" x="1295" y="656" width="29" height="28"/><text class="t m" x="1309.5" y="667.1"><tspan x="1309.5">Favorite</tspan><tspan x="1309.5" dy="5.8">dishes</tspan></text><circle class="dm" cx="1319" cy="654" r="4"/></g>
<g id="n-d18"><rect class="g" x="1176" y="694" width="27" height="27"/><text class="t xs" x="1189.5" y="701.5"><tspan x="1189.5">Personal</tspan><tspan x="1189.5" dy="4">chef</tspan><tspan x="1189.5" dy="4">assigned to</tspan><tspan x="1189.5" dy="4">dish</tspan></text><circle class="dt" cx="1198" cy="693" r="4"/></g>
<g id="n-d19"><rect class="y" x="1214" y="688" width="29" height="29"/><text class="t M" x="1228.5" y="698.8"><tspan x="1228.5">Order</tspan><tspan x="1228.5" dy="7.4">again</tspan></text><circle class="dm" cx="1239" cy="691" r="4"/></g>
<g id="n-d20"><rect class="l" x="1335" y="692" width="28" height="27"/><text class="t s" x="1349" y="703.15"><tspan x="1349">PDP</tspan><tspan x="1349" dy="4.7">Storytelling</tspan></text><circle class="dt" cx="1360" cy="691" r="4"/></g>
<g id="n-d21"><rect class="l" x="1370" y="695" width="28" height="27"/><text class="t xs" x="1384" y="704.5"><tspan x="1384">PDP</tspan><tspan x="1384" dy="4">nutritional</tspan><tspan x="1384" dy="4">facts</tspan></text><circle class="dt" cx="1390" cy="694" r="4"/></g>
<g id="n-d22"><rect class="l" x="1407" y="695" width="28" height="27"/><text class="t xs" x="1421" y="704.5"><tspan x="1421">PDP</tspan><tspan x="1421" dy="4">preferences</tspan><tspan x="1421" dy="4">&amp; allergens</tspan></text><circle class="dt" cx="1422" cy="695" r="4"/></g>
<g id="n-d23"><rect class="y" x="1442" y="693" width="28" height="27"/><text class="t xs" x="1456" y="702.5"><tspan x="1456">Social log in</tspan><tspan x="1456" dy="4">(Apple, FB,</tspan><tspan x="1456" dy="4">Google)</tspan></text><circle class="dy" cx="1466" cy="693" r="4"/></g>
<g id="n-d24"><rect class="y" x="1212" y="731" width="29" height="31"/><rect class="y" x="1207" y="727" width="28" height="30"/><text class="t xs" x="1221" y="736"><tspan x="1221">Money back if</tspan><tspan x="1221" dy="4">high rated</tspan><tspan x="1221" dy="4">rate + good</tspan><tspan x="1221" dy="4">check</tspan></text><circle class="dt" cx="1235" cy="734" r="4"/></g>
<g id="n-d25"><rect class="y" x="1261" y="729" width="27" height="27"/><text class="t xs" x="1274.5" y="740.5"><tspan x="1274.5">easy to skip</tspan><tspan x="1274.5" dy="4">onboarding</tspan></text></g>
<g id="n-d26"><rect class="g" x="1305" y="733" width="29" height="27"/><text class="t m" x="1319.5" y="740.7"><tspan x="1319.5">Visible</tspan><tspan x="1319.5" dy="5.8">discount</tspan><tspan x="1319.5" dy="5.8">on dish</tspan></text><circle class="dm" cx="1329" cy="733" r="4"/></g>
<g id="n-d27"><rect class="g" x="1333" y="731" width="27" height="27"/><text class="t m" x="1346.5" y="741.6"><tspan x="1346.5">Filter by</tspan><tspan x="1346.5" dy="5.8">offers</tspan></text><circle class="dt" cx="1354" cy="732" r="4"/></g>
<g id="n-d28"><rect class="g" x="1368" y="729" width="28" height="27"/><text class="t xs" x="1382" y="736.5"><tspan x="1382">Show dish</tspan><tspan x="1382" dy="4">is suitable</tspan><tspan x="1382" dy="4">for your</tspan><tspan x="1382" dy="4">allergy</tspan></text><circle class="dt" cx="1387" cy="730" r="4"/></g>
<g id="n-d29"><rect class="g" x="1400" y="733" width="27" height="27"/><text class="t s" x="1413.5" y="744.15"><tspan x="1413.5">Cuisine</tspan><tspan x="1413.5" dy="4.7">Categories</tspan></text><circle class="dm" cx="1417" cy="733" r="4"/></g>

<!-- axes -->
<g id="axes">
<line x1="769" y1="88" x2="769" y2="797" stroke="#111" stroke-width="2"/>
<line x1="768" y1="796" x2="1552" y2="796" stroke="#111" stroke-width="2"/>
<polygon points="769,79 764.5,90 773.5,90" fill="#111"/>
<polygon points="1561,796 1550,791.5 1550,800.5" fill="#111"/>
<rect x="752" y="110" width="31" height="15" fill="#2f9cf4"/><text class="tg" x="767.5" y="117.5">HIGH</text>
<rect x="753" y="738" width="31" height="14" fill="#22c3d6"/><text class="tg" x="768.5" y="745">LOW</text>
<rect x="798" y="791" width="31" height="13" fill="#22c3d6"/><text class="tg" x="813.5" y="797.5">LOW</text>
<rect x="1492" y="791" width="29" height="13" fill="#2f9cf4"/><text class="tg" x="1506.5" y="797.5">HIGH</text>
<text class="ax" x="0" y="0" transform="translate(756,450) rotate(-90)">EFFORT/COST</text>
<text class="ax" x="1168" y="819">IMPORTANCE/IMPACT</text>
</g>
</svg>
